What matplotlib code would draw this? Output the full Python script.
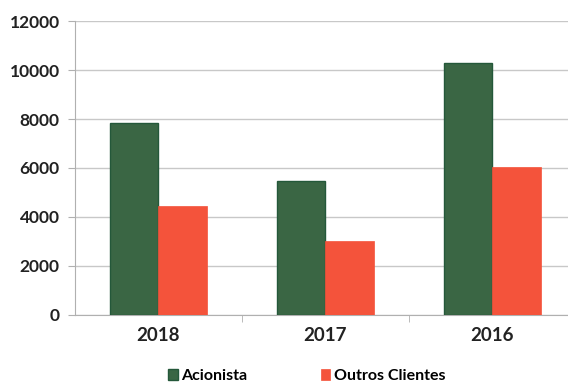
import numpy as np
import matplotlib.pyplot as plt

# data
years = ["2018", "2017", "2016"]
acionista = [7850, 5450, 10300]
outros = [4450, 3000, 6050]
y_ticks = [0, 2000, 4000, 6000, 8000, 10000, 12000]

plt.rcParams["font.family"] = ["Lato", "DejaVu Sans"]

fig = plt.figure(figsize=(5.68, 3.84), dpi=100)
ax = fig.add_axes([0.132, 0.18, 0.882, 0.765])

x = np.arange(len(years))
w = 0.29

ax.bar(x - w / 2, acionista, width=w, color="#3a6644", edgecolor="#24583a",
       linewidth=1.0, label="Acionista", zorder=3)
ax.bar(x + w / 2, outros, width=w, color="#f4533b", edgecolor="#f4533b",
       linewidth=0.5, label="Outros Clientes", zorder=3)

ax.set_xlim(-0.5, 2.5)
ax.set_ylim(0, 12000)
ax.set_yticks(y_ticks)
ax.set_yticklabels([str(v) for v in y_ticks], fontsize=12.5, fontweight="bold",
                   color="#222222")
ax.set_xticks(x)
ax.set_xticklabels(years, fontsize=13.5, fontweight="bold", color="#222222")

ax.yaxis.grid(True, color="#c8c8c8", linewidth=1.0, zorder=0)
ax.set_axisbelow(True)

for side in ["top", "right"]:
    ax.spines[side].set_visible(False)
ax.spines["left"].set_color("#b0b0b0")
ax.spines["bottom"].set_color("#b0b0b0")

ax.tick_params(axis="y", length=5, color="#b0b0b0", pad=6)
ax.tick_params(axis="x", length=0, pad=9)

# category boundary ticks
ax.set_xticks([0.5, 1.5], minor=True)
ax.tick_params(axis="x", which="minor", length=5, color="#b0b0b0")

leg = fig.legend(loc="lower center", bbox_to_anchor=(0.54, -0.035), ncol=2,
                 frameon=False, handlelength=0.6,
                 handleheight=0.6, handletextpad=0.2, columnspacing=4.6,
                 prop={"weight": "bold", "size": 11.5})

fig.savefig("out.png", dpi=100)
